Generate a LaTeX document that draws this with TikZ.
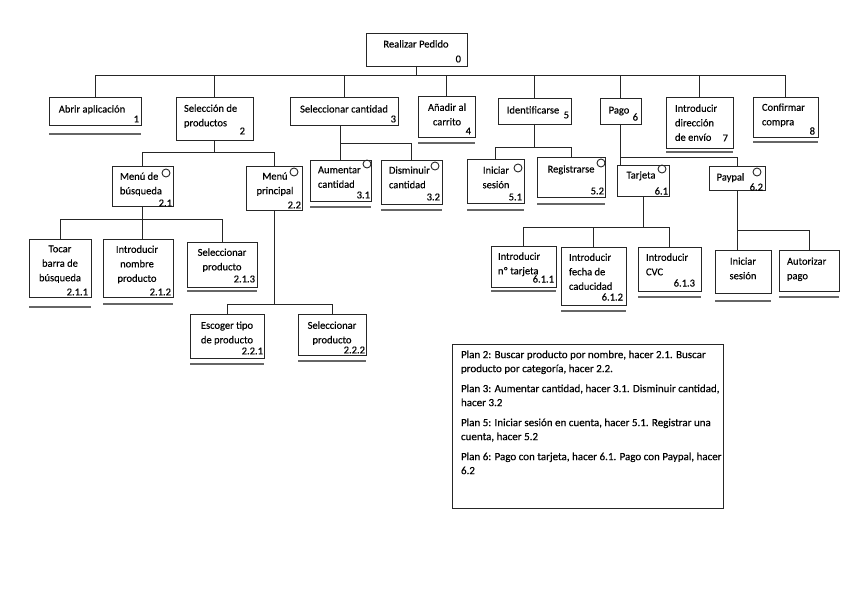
\documentclass[tikz,border=0pt]{standalone}
\usepackage{fontspec}
\setmainfont{Carlito}[FakeBold=0.3]
\usetikzlibrary{calc}
\newcommand{\mkbox}[5]{\node[box, anchor=north west, minimum width={(#4-#2)*1pt}, minimum height={(#5-#3)*1pt}] (#1) at (#2,#3) {};}
\newcommand{\mkul}[2]{\draw[ul] (#1.south west |- 0,#2) -- (#1.south east |- 0,#2);}
\begin{document}
\begin{tikzpicture}[x=1pt,y=-1pt,
  box/.style={rectangle,draw=black!85,line width=0.9pt,inner sep=0pt,outer sep=0pt},
  conn/.style={draw=black!85,line width=0.9pt},
  ul/.style={draw=black!60,line width=1.8pt},
  lbl/.style={inner sep=0pt,outer sep=0pt,font=\fontsize{10.5}{14.5}\selectfont,execute at begin node={\rule{0pt}{8pt}}},
  num/.style={inner sep=0pt,outer sep=0pt,anchor=east,font=\fontsize{10.5}{12}\selectfont},
  circ/.style={circle,draw=black!85,line width=0.9pt,minimum size=8pt,inner sep=0pt}]
\useasboundingbox[fill=white] (0,0) rectangle (848,599);

% boxes
\mkbox{root}{366}{33}{467}{66}
\mkbox{n1}{49}{97}{141}{125}
\mkbox{n2}{176}{97}{253}{140}
\mkbox{n3}{290}{97}{398}{125}
\mkbox{n4}{418}{96}{475}{137}
\mkbox{n5}{498}{98}{571}{124}
\mkbox{n6}{600}{98}{641}{124}
\mkbox{n7}{666}{97}{733}{148}
\mkbox{n8}{753}{97}{818}{137}
\mkbox{n21}{112}{166}{173}{206}
\mkbox{n22}{246}{166}{302}{210}
\mkbox{n211}{29}{239}{91}{297}
\mkbox{n212}{103}{239}{173}{297}
\mkbox{n213}{187}{242}{257}{287}
\mkbox{n221}{190}{314}{264}{358}
\mkbox{n222}{298}{314}{366}{355}
\mkbox{n31}{310}{160}{371}{201}
\mkbox{n32}{381}{160}{442}{204}
\mkbox{n51}{467}{159}{524}{203}
\mkbox{n52}{537}{157}{605}{197}
\mkbox{n61}{617}{165}{669}{196}
\mkbox{n62}{709}{166}{765}{190}
\mkbox{n611}{491}{246}{556}{287}
\mkbox{n612}{561}{247}{626}{305}
\mkbox{n613}{638}{247}{701}{291}
\mkbox{n621}{715}{250}{771}{293}
\mkbox{n622}{779}{250}{839}{291}
\mkbox{plan}{452}{344}{723}{508}

% underlines
\mkul{n1}{134}
\mkul{n4}{143}
\mkul{n7}{152}
\mkul{n8}{142}
\mkul{n211}{307}
\mkul{n212}{304}
\mkul{n213}{291}
\mkul{n221}{364}
\mkul{n222}{361}
\mkul{n31}{207}
\mkul{n32}{210}
\mkul{n51}{210}
\mkul{n52}{204}
\mkul{n611}{291}
\mkul{n612}{311}
\mkul{n613}{297}
\mkul{n621}{301}
\mkul{n622}{297}

% circles
\node[circ] (c21) at (166,173) {};
\node[circ] (c22) at (294,172) {};
\node[circ] (c31) at (367,164) {};
\node[circ] (c32) at (435,166) {};
\node[circ] (c51) at (518,168) {};
\node[circ] (c52) at (601,163) {};
\node[circ] (c61) at (662,169) {};
\node[circ] (c62) at (757,172) {};

% texts
\node[lbl,anchor=north] (t0) at (416,39.5) {Realizar Pedido};
\node[num] (r0) at (461,59) {0};
\node[lbl,anchor=north] (t1) at (92,104.5) {Abrir aplicación};
\node[num] (r1) at (139,119) {1};
\node[lbl,anchor=north west,align=left] (t2) at (184,104.5) {Selección de\\productos};
\node[num] (r2) at (245,131) {2};
\node[lbl,anchor=north] (t3) at (344,104.5) {Seleccionar cantidad};
\node[num] (r3) at (396,119) {3};
\node[lbl,anchor=north,align=center] (t4) at (447,103.5) {Añadir al\\carrito};
\node[num] (r4) at (471,131) {4};
\node[lbl,anchor=north] (t5) at (533,105.5) {Identificarse};
\node[num] (r5) at (569,115) {5};
\node[lbl,anchor=north] (t6) at (619,105.5) {Pago};
\node[num] (r6) at (638,117) {6};
\node[lbl,anchor=north west,align=left] (t7) at (675,104.5) {Introducir\\dirección\\de envío};
\node[num] (r7) at (728,138) {7};
\node[lbl,anchor=north west,align=left] (t8) at (762,103.5) {Confirmar\\compra};
\node[num] (r8) at (815,131) {8};

\node[lbl,anchor=north west,align=left] (t21) at (120,172.5) {Menú de\\búsqueda};
\node[num] (r21) at (172,203) {2.1};
\node[lbl,anchor=north,align=center] (t22) at (275,172.5) {Menú\\principal};
\node[num] (r22) at (301,205) {2.2};
\node[lbl,anchor=north,align=center] (t211) at (60,245.5) {Tocar\\barra de\\búsqueda};
\node[num] (r211) at (88,292) {2.1.1};
\node[lbl,anchor=north,align=center] (t212) at (137,245.5) {Introducir\\nombre\\producto};
\node[num] (r212) at (171,292) {2.1.2};
\node[lbl,anchor=north,align=center] (t213) at (222,248.5) {Seleccionar\\producto};
\node[num] (r213) at (255,279) {2.1.3};
\node[lbl,anchor=north,align=center] (t221) at (227,321.5) {Escoger tipo\\de producto};
\node[num] (r221) at (263,351) {2.2.1};
\node[lbl,anchor=north,align=center] (t222) at (332,321.5) {Seleccionar\\producto};
\node[num] (r222) at (365,350) {2.2.2};

\node[lbl,anchor=north west,align=left] (t31) at (318,166.5) {Aumentar\\cantidad};
\node[num] (r31) at (370,195) {3.1};
\node[lbl,anchor=north west,align=left] (t32) at (389,166.5) {Disminuir\\cantidad};
\node[num] (r32) at (440,197) {3.2};
\node[lbl,anchor=north,align=center] (t51) at (496,166.5) {Iniciar\\sesión};
\node[num] (r51) at (522,197) {5.1};
\node[lbl,anchor=north] (t52) at (571,164.5) {Registrarse};
\node[num] (r52) at (604,191) {5.2};
\node[lbl,anchor=north] (t61) at (641,170.5) {Tarjeta};
\node[num] (r61) at (668,191) {6.1};
\node[lbl,anchor=north] (t62) at (730.5,172.5) {Paypal};
\node[num] (r62) at (763,187) {6.2};

\node[lbl,anchor=north west,align=left] (t611) at (498,252.5) {Introducir\\nº tarjeta};
\node[num] (r611) at (554,279) {6.1.1};
\node[lbl,anchor=north west,align=left] (t612) at (569,253.5) {Introducir\\fecha de\\caducidad};
\node[num] (r612) at (623,297) {6.1.2};
\node[lbl,anchor=north west,align=left] (t613) at (646,253.5) {Introducir\\CVC};
\node[num] (r613) at (695,283) {6.1.3};
\node[lbl,anchor=north,align=center] (t621) at (743,257.5) {Iniciar\\sesión};
\node[lbl,anchor=north west,align=left] (t622) at (787,257.5) {Autorizar\\pago};

\node[lbl,anchor=north west,align=left,font=\fontsize{11}{14}\selectfont] (tplan) at (461,350.5)
 {Plan 2: Buscar producto por nombre, hacer 2.1. Buscar\\producto por categoría, hacer 2.2.\\[6pt]
  Plan 3: Aumentar cantidad, hacer 3.1. Disminuir cantidad,\\hacer 3.2\\[6pt]
  Plan 5: Iniciar sesión en cuenta, hacer 5.1. Registrar una\\cuenta, hacer 5.2\\[6pt]
  Plan 6: Pago con tarjeta, hacer 6.1. Pago con Paypal, hacer\\6.2};

% connectors
\coordinate (bar0) at (0,75);
\draw[conn] (root.south) -- (root.south |- bar0);
\draw[conn] (n1.north) -- (n1.north |- bar0) -- (n8.north |- bar0) -- (n8.north);
\foreach \n in {n2,n3,n4,n5,n6,n7} \draw[conn] (\n.north) -- (\n.north |- bar0);

\coordinate (bar2) at (0,152);
\draw[conn] (n2.south) -- (n2.south |- bar2);
\draw[conn] (n21.north) -- (n21.north |- bar2) -- (n22.north |- bar2) -- (n22.north);

\coordinate (bar21) at (0,219);
\draw[conn] (n21.south) -- (n21.south |- n212.north);
\draw[conn] (n211.north) -- (n211.north |- bar21) -- (n213.north |- bar21) -- (n213.north);

\coordinate (bar22) at (0,304);
\draw[conn] (n22.south) -- (n22.south |- bar22);
\draw[conn] (n221.north) -- (n221.north |- bar22) -- (n222.north |- bar22) -- (n222.north);

\coordinate (bar3) at (0,143);
\draw[conn] (n31.north) -- (n31.north |- n3.south);
\draw[conn] (n31.north |- bar3) -- (n32.north |- bar3) -- (n32.north);

\coordinate (bar5) at (0,147);
\draw[conn] (n5.south) -- (n5.south |- bar5);
\draw[conn] (n51.north) -- (n51.north |- bar5) -- (n52.north |- bar5) -- (n52.north);

\coordinate (bar6) at (0,157);
\draw[conn] (n6.south) -- (n6.south |- n61.north);
\draw[conn] (n6.south |- bar6) -- (n62.north |- bar6) -- (n62.north);

\coordinate (bar61) at (0,227);
\draw[conn] (n61.south) -- (n61.south |- bar61);
\draw[conn] (n611.north) -- (n611.north |- bar61) -- (n613.north |- bar61) -- (n613.north);
\draw[conn] (n612.north) -- (n612.north |- bar61);

\coordinate (bar62) at (0,230);
\draw[conn] (n62.south) -- (n62.south |- n621.north);
\draw[conn] (n62.south |- bar62) -- (n622.north |- bar62) -- (n622.north);
\end{tikzpicture}
\end{document}
